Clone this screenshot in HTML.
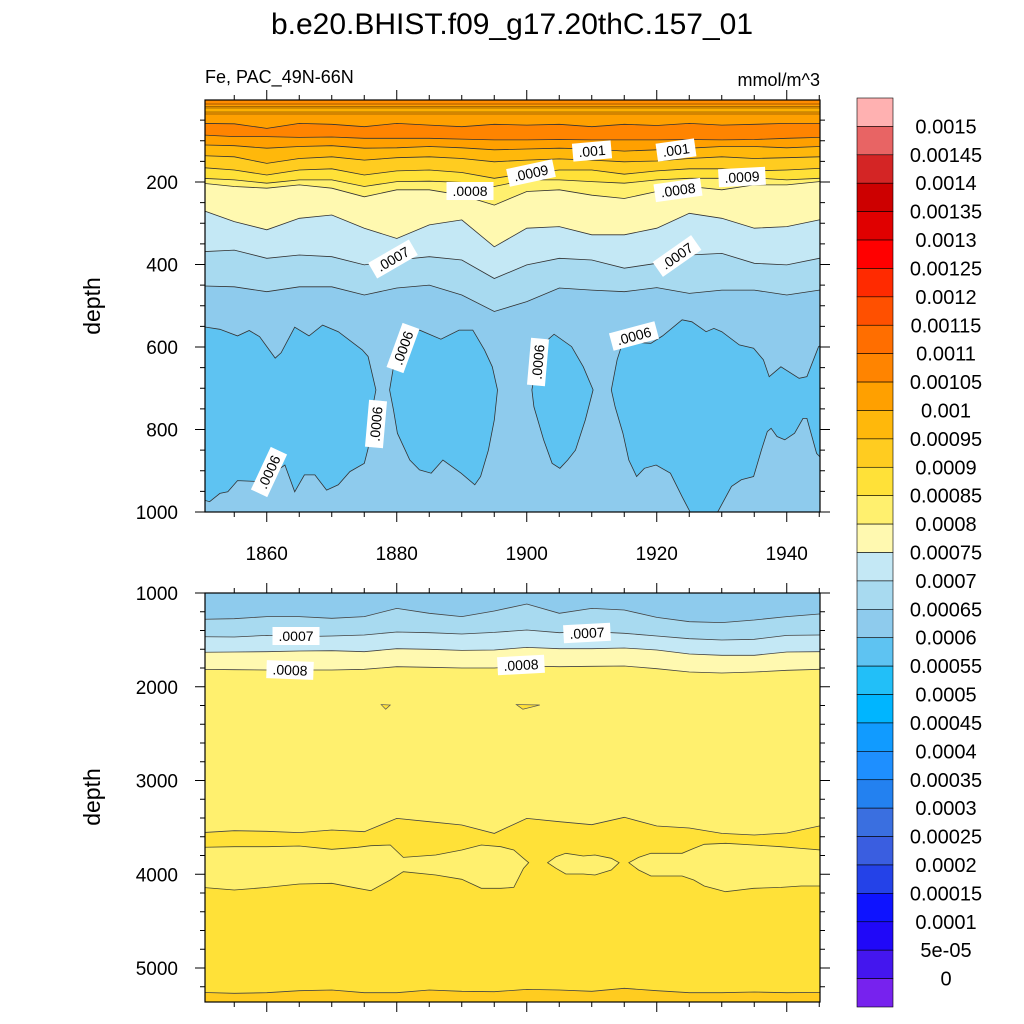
<!DOCTYPE html>
<html><head><meta charset="utf-8"><style>
html,body{margin:0;padding:0;background:#fff;}
svg{display:block;font-family:"Liberation Sans",sans-serif;}
</style></head><body>
<svg id="chart" width="1024" height="1024" viewBox="0 0 1024 1024" xmlns="http://www.w3.org/2000/svg">
<defs>
<clipPath id="clipTop"><rect x="205" y="100" width="615" height="412"/></clipPath>
<clipPath id="clipBot"><rect x="205" y="593" width="615" height="409"/></clipPath>
</defs>
<text x="512" y="34" font-size="30" text-anchor="middle">b.e20.BHIST.f09_g17.20thC.157_01</text>
<text x="205" y="83" font-size="18">Fe, PAC_49N-66N</text>
<text x="820" y="86" font-size="18" text-anchor="end">mmol/m^3</text>
<g id="topPanel"></g>
<g id="botPanel"></g>
<g id="colorbar"></g>
</svg>
<script>
const NS='http://www.w3.org/2000/svg';
// ---------- data ----------
const years=[1850,1855,1860,1865,1870,1875,1880,1885,1890,1895,1900,1905,1910,1915,1920,1925,1930,1935,1940,1945];
// top panel contour depths (m)
const lineB_0011=[58,59,70,58,60,66,58,62,66,60,62,60,66,60,63,58,62,60,58,58];
const lineC_00105=[86,90,90,92,91,94,94,94,96,98,98,97,98,98,98,97,98,97,94,92];
const lineD_001=[110,112,118,114,112,118,117,114,117,122,120,118,120,125,122,118,114,114,117,114];
const lineE_00095=[136,139,155,143,139,147,141,139,143,151,147,144,147,151,149,143,139,143,141,139];
const lineF_0009=[165,171,183,171,168,183,173,171,177,191,179,171,171,181,173,168,168,173,171,167];
const lineG_00085=[191,195,203,195,195,211,199,198,201,211,195,195,199,203,195,191,191,190,195,191];
const lineH_0008=[203,211,215,207,215,236,219,219,232,256,223,219,232,240,223,211,219,207,207,199];
const lineI_00075=[268,296,316,288,280,312,337,304,292,357,312,308,328,328,312,276,288,312,308,292];
const lineJ_0007=[369,365,385,377,381,401,389,381,389,434,401,385,389,409,397,377,373,397,401,385];
const lineK_00065=[452,454,466,454,454,474,457,450,474,514,490,457,462,466,456,470,462,462,474,462];
// 0.0006 closed contours (year, depth)
const blob1Years=[1849,1850.3,1852.8,1855.5,1857.3,1858.9,1861.3,1862.2,1864.3,1866.5,1868.6,1871.0,1874.7,1875.6,1876.8,1876.2,1875.6,1875.0,1872.8,1871.0,1869.2,1867.4,1865.8,1864.3,1862.8,1861.0,1858.5,1855.5,1854.0,1852.8,1851.2,1850.3,1849];
const blob1Depths=[551,551,557,573,560,575,627,614,552,573,547,563,607,623,704,753,846,882,902,934,947,910,910,951,886,906,926,924,951,955,975,971,971];
const blob2Years=[1878.9,1879.5,1881.3,1883.5,1886.8,1889.6,1891.7,1893.5,1894.7,1895.5,1895.0,1894.1,1892.9,1892.0,1889.9,1887.1,1885.3,1883.5,1882.0,1880.1,1879.5];
const blob2Depths=[704,648,567,559,581,559,559,607,648,704,777,850,914,934,906,874,906,898,874,809,753];
const blob3Years=[1900.8,1901.4,1902.9,1904.2,1906.9,1908.7,1910.2,1909.0,1907.5,1906.3,1905.1,1903.9,1902.6,1901.1];
const blob3Depths=[704,648,587,569,599,648,704,777,850,874,894,882,825,745];
const blob4Years=[1913.0,1913.9,1914.8,1919.1,1920.9,1923.9,1925.4,1927.6,1928.8,1930.0,1932.7,1934.9,1936.4,1937.3,1939.1,1941.9,1943.1,1944.9,1947,1947,1944.6,1943.1,1942.5,1941.2,1939.7,1938.5,1937.6,1937.0,1936.1,1934.9,1933.0,1931.5,1929.4,1928.8,1925.4,1925.1,1923.9,1922.1,1919.9,1918.1,1916.9,1915.7,1914.8,1913.6];
const blob4Depths=[704,631,587,591,573,534,539,563,555,563,595,603,631,672,648,676,672,599,583,898,858,773,773,809,825,817,797,805,850,914,922,938,999,1020,1020,999,963,906,886,894,914,874,809,745];
// bottom panel contour depths (m)
const bl_00065=[1281,1274,1252,1252,1270,1252,1164,1217,1252,1192,1117,1217,1164,1181,1260,1306,1316,1288,1252,1224];
const bl_0007=[1466,1469,1452,1466,1459,1448,1416,1423,1437,1420,1395,1423,1413,1430,1459,1487,1501,1494,1452,1448];
const bl_00075=[1633,1629,1626,1619,1615,1626,1594,1601,1612,1608,1580,1594,1594,1587,1608,1651,1665,1665,1629,1626];
const bl_0008=[1814,1818,1821,1821,1821,1814,1786,1793,1800,1800,1779,1786,1782,1779,1807,1843,1853,1843,1825,1814];
const bl_00085top=[3556,3535,3542,3556,3528,3546,3404,3439,3475,3564,3404,3439,3471,3393,3485,3507,3564,3581,3560,3485];
const bl_0009=[5260,5270,5263,5242,5235,5263,5263,5235,5249,5253,5228,5235,5249,5217,5242,5263,5263,5256,5263,5260];
const midAYears=[1849,1850,1855,1860,1865,1870,1874,1876,1879,1881,1886,1890,1893,1896,1898,1899.5,1900.3];
const midATop=[3713,3713,3706,3706,3699,3734,3713,3695,3688,3820,3795,3741,3688,3706,3741,3830,3877];
const midABot=[4140,4140,4168,4140,4104,4097,4150,4175,4061,3973,4008,4054,4150,4150,4140,3937,3877];
const midBYears=[1903.2,1904.5,1906,1908.7,1910.5,1913,1914.2];
const midBTop=[3877,3813,3777,3805,3795,3830,3877];
const midBBot=[3877,3937,3997,3997,4008,3955,3877];
const midCYears=[1915.7,1917.2,1919.1,1923.9,1925.7,1927.3,1930.6,1934.9,1939.1,1942.2,1945.2,1947];
const midCTop=[3877,3820,3777,3777,3724,3681,3670,3688,3706,3724,3741,3741];
const midCBot=[3877,3955,4019,4019,4061,4125,4186,4150,4140,4125,4125,4125];
// colorbar
const cbLabels=['0.0015','0.00145','0.0014','0.00135','0.0013','0.00125','0.0012','0.00115','0.0011','0.00105','0.001','0.00095','0.0009','0.00085','0.0008','0.00075','0.0007','0.00065','0.0006','0.00055','0.0005','0.00045','0.0004','0.00035','0.0003','0.00025','0.0002','0.00015','0.0001','5e-05','0'];
const cbColors=['#ffb1b1','#e86464','#d42525','#cd0000','#e00000','#ff0000','#ff2a00','#ff5000','#ff6e00','#ff8400','#ffa000','#ffb80b','#ffcc20','#ffe138','#fff06e','#fff9b0','#c4e8f5','#a8daf0','#8ecbed','#5ec3f2','#22bff8','#00b5ff','#119bff','#1e8fff','#2381f0','#3a6fe0','#3a5ee0','#2442e8','#0e13ff','#2008f8','#4416ee','#7722ee'];
const xTickVals=[1860,1880,1900,1920,1940];
const yTopTicks=[200,400,600,800,1000];
const yBotTicks=[1000,2000,3000,4000,5000];

// ---------- scales ----------
const X=yr=>205+(yr-1850.5)*6.5;
const YT=d=>99.5+d*0.4125;
const YB=d=>593+(d-1000)*0.09375;

function el(tag,attrs,parent){const e=document.createElementNS(NS,tag);for(const k in attrs)e.setAttribute(k,attrs[k]);parent.appendChild(e);return e;}
function linePts(xs,ds,ys){return xs.map((yr,i)=>X(yr).toFixed(1)+','+ys(ds[i]).toFixed(1));}
function ext(ds){return [ds[0]].concat(ds,[ds[ds.length-1]]);}
function extY(){return [1840].concat(years,[1955]);}

const topG=document.getElementById('topPanel');
const gT=el('g',{'clip-path':'url(#clipTop)'},topG);
const bgT=el('rect',{x:205,y:100,width:615,height:412,fill:'#8ecbed'},gT);


const topLines=[[lineK_00065,'#a8daf0','contour-0.00065'],[lineJ_0007,'#c4e8f5','contour-0.0007'],[lineI_00075,'#fff9b0','contour-0.00075'],[lineH_0008,'#fff06e','contour-0.0008'],[lineG_00085,'#ffe138','contour-0.00085'],[lineF_0009,'#ffcc20','contour-0.0009'],[lineE_00095,'#ffb80b','contour-0.00095'],[lineD_001,'#ffa000','contour-0.001'],[lineC_00105,'#ff8400','contour-0.00105'],[lineB_0011,'#ffa000','contour-0.0011']];
topLines.forEach(([ds,col,nm])=>{
  const pts=linePts(extY(),ext(ds),YT);
  const p=el('polygon',{points:'180,90 '+pts.join(' ')+' 850,90',fill:col},gT);
  
  
});
const s1=el('rect',{x:205,y:100,width:615,height:5,fill:'#ff8c00'},gT);


const s2=el('rect',{x:205,y:108,width:615,height:4,fill:'#ffb000'},gT);


[104,106.5,108,112,114].forEach(y=>{
  const l=el('line',{x1:205,x2:820,y1:y,y2:y,stroke:'#5a3a00','stroke-width':0.7,opacity:0.7},gT);
  
  
});
[[blob1Years,blob1Depths],[blob2Years,blob2Depths],[blob3Years,blob3Depths],[blob4Years,blob4Depths]].forEach(([ys,ds],i)=>{
  const p=el('polygon',{points:linePts(ys,ds,YT).join(' '),fill:'#5ec3f2',stroke:'#333','stroke-width':0.8},gT);
  
  
});
topLines.forEach(([ds,col,nm])=>{
  const p=el('polyline',{points:linePts(extY(),ext(ds),YT).join(' '),fill:'none',stroke:'#333','stroke-width':0.8},gT);
  
  
});

// bottom panel
const botG=document.getElementById('botPanel');
const gB=el('g',{'clip-path':'url(#clipBot)'},botG);
const bgB=el('rect',{x:205,y:593,width:615,height:409,fill:'#ffe138'},gB);


const lowP=el('polygon',{points:'180,1010 '+linePts(extY(),ext(bl_0009),YB).join(' ')+' 850,1010',fill:'#ffcc20'},gB);


const botLines=[[bl_00085top,'#fff06e','contour-0.00085'],[bl_0008,'#fff9b0','contour-0.0008'],[bl_00075,'#c4e8f5','contour-0.00075'],[bl_0007,'#a8daf0','contour-0.0007'],[bl_00065,'#8ecbed','contour-0.00065']];
botLines.forEach(([ds,col,nm])=>{
  const p=el('polygon',{points:'180,580 '+linePts(extY(),ext(ds),YB).join(' ')+' 850,580',fill:col},gB);
  
  
});
[[midAYears,midATop,midABot],[midBYears,midBTop,midBBot],[midCYears,midCTop,midCBot]].forEach(([ys,t,b],i)=>{
  const up=linePts(ys,t,YB), dn=linePts(ys,b,YB).reverse();
  const p=el('polygon',{points:up.concat(dn).join(' '),fill:'#fff06e',stroke:'#4a4a30','stroke-width':0.8},gB);
  
  
});
botLines.concat([[bl_0009,'','contour-0.0009']]).forEach(([ds,col,nm])=>{
  const p=el('polyline',{points:linePts(extY(),ext(ds),YB).join(' '),fill:'none',stroke:'#444','stroke-width':0.8},gB);
  
  
});
const tri1=el('polygon',{points:`${X(1877.6)},${YB(2190)} ${X(1879)},${YB(2195)} ${X(1878.3)},${YB(2240)}`,fill:'#ffe138',stroke:'#555','stroke-width':0.7},gB);


const tri2=el('polygon',{points:`${X(1898.4)},${YB(2190)} ${X(1902)},${YB(2195)} ${X(1899.4)},${YB(2240)}`,fill:'#ffe138',stroke:'#555','stroke-width':0.7},gB);



// frames & ticks
function frame(parent,y0,h,name){
  const r=el('rect',{x:205,y:y0,width:615,height:h,fill:'none',stroke:'#000','stroke-width':1.2},parent);
  
  
  for(let yr=1855;yr<=1945;yr+=5){
    const major=(yr%20===0);const L=major?10:5;const x=X(yr);
    el('line',{x1:x,x2:x,y1:y0,y2:y0-L,stroke:'#000','stroke-width':1},parent);
    el('line',{x1:x,x2:x,y1:y0+h,y2:y0+h+L,stroke:'#000','stroke-width':1},parent);
  }
}
frame(topG,100,412,'top-plot-frame');
frame(botG,593,409,'bottom-plot-frame');
for(let d=50;d<=1000;d+=50){const y=YT(d);const L=(d%200===0)?10:5;
  el('line',{x1:205,x2:205-L,y1:y,y2:y,stroke:'#000'},topG);el('line',{x1:820,x2:820+L,y1:y,y2:y,stroke:'#000'},topG);}
for(let d=1000;d<=5300;d+=200){const y=YB(d);const L=(d%1000===0)?10:5;
  el('line',{x1:205,x2:205-L,y1:y,y2:y,stroke:'#000'},botG);el('line',{x1:820,x2:820+L,y1:y,y2:y,stroke:'#000'},botG);}
xTickVals.forEach(v=>{
  const t=el('text',{x:X(v),y:560,'font-size':19,'text-anchor':'middle'},topG);t.textContent=v;
  
  
});
yTopTicks.forEach(v=>{
  const t=el('text',{x:178,y:YT(v)+7,'font-size':19,'text-anchor':'end'},topG);t.textContent=v;
  
  
});
yBotTicks.forEach(v=>{
  const t=el('text',{x:178,y:YB(v)+7,'font-size':19,'text-anchor':'end'},botG);t.textContent=v;
  
  
});
[[topG,306],[botG,797]].forEach(([g,cy])=>{
  const t=el('text',{x:0,y:0,'font-size':23,'text-anchor':'middle',transform:`translate(100,${cy}) rotate(-90)`},g);t.textContent='depth';
  
  
});
const clabels=[[topG,'.001',592,151,-5],[topG,'.001',676,150,-8],[topG,'.0009',531,173,-12],[topG,'.0008',470,191,0],[topG,'.0008',678,190,-8],[topG,'.0009',742,177,-3],[topG,'.0007',393,259,-30],[topG,'.0007',677,256,-35],[topG,'.0006',403,348,-70],[topG,'.0006',376,424,-85],[topG,'.0006',269,472,-65],[topG,'.0006',538,362,-85],[topG,'.0006',634,336,-15],[botG,'.0007',296,636,0],[botG,'.0007',587,633,-3],[botG,'.0008',290,670,2],[botG,'.0008',521,665,-3]];
clabels.forEach(([g,s,x,y,r])=>{
  const gg=el('g',{transform:`translate(${x},${y}) rotate(${r})`},g);
  
  
  const w=s.length*8.2+6;
  el('rect',{x:-w/2,y:-9,width:w,height:18,fill:'#fff'},gg);
  const t=el('text',{x:0,y:5,'font-size':14,'text-anchor':'middle'},gg);t.textContent=s;
});
// colorbar
const cb=document.getElementById('colorbar');
const cbTop=98,cbH=(1007-98)/32;
cbColors.forEach((c,i)=>{
  const r=el('rect',{x:857,y:cbTop+i*cbH,width:36,height:cbH,fill:c,stroke:'#000','stroke-width':0.6},cb);
  
  
});
cbLabels.forEach((s,i)=>{
  const t=el('text',{x:946,y:cbTop+(i+1)*cbH+7,'font-size':20,'text-anchor':'middle'},cb);t.textContent=s;
  
  
});
</script>
</body></html>
